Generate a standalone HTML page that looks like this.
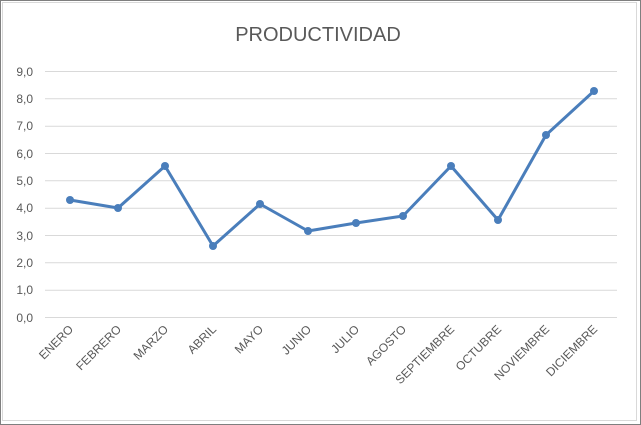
<!DOCTYPE html>
<html><head><meta charset="utf-8"><style>
html,body{margin:0;padding:0;background:#fff}
svg{display:block}
text{font-family:"Liberation Sans",sans-serif;fill:#595959}
</style></head><body>
<svg width="641" height="425" xmlns="http://www.w3.org/2000/svg">
<rect x="0.5" y="0.5" width="640" height="424" fill="#fff" stroke="#7f7f7f"/>
<rect x="2.5" y="2.5" width="634" height="418" fill="none" stroke="#d9d9d9"/>
<text x="318" y="41" font-size="20" text-anchor="middle">PRODUCTIVIDAD</text>
<g stroke="#d9d9d9" stroke-width="1">
<line x1="45" x2="617" y1="71.5" y2="71.5"/>
<line x1="45" x2="617" y1="98.8" y2="98.8"/>
<line x1="45" x2="617" y1="126.2" y2="126.2"/>
<line x1="45" x2="617" y1="153.5" y2="153.5"/>
<line x1="45" x2="617" y1="180.8" y2="180.8"/>
<line x1="45" x2="617" y1="208.2" y2="208.2"/>
<line x1="45" x2="617" y1="235.5" y2="235.5"/>
<line x1="45" x2="617" y1="262.8" y2="262.8"/>
<line x1="45" x2="617" y1="290.2" y2="290.2"/>
<line x1="45" x2="617" y1="317.5" y2="317.5"/>
</g>
<g font-size="12" text-anchor="end">
<text x="33" y="76">9,0</text><text x="33" y="103">8,0</text><text x="33" y="130">7,0</text>
<text x="33" y="158">6,0</text><text x="33" y="185">5,0</text><text x="33" y="212">4,0</text>
<text x="33" y="240">3,0</text><text x="33" y="267">2,0</text><text x="33" y="294">1,0</text>
<text x="33" y="322">0,0</text>
</g>
<polyline fill="none" stroke="#4a7ebb" stroke-width="3" stroke-linejoin="round"
points="70,200 118,208 165,166 213,246 260,204 308,231 356,223 403,216 451,166 498,220 546,135 594,91"/>
<g fill="#4a7ebb">
<circle cx="70" cy="200" r="4"/><circle cx="118" cy="208" r="4"/><circle cx="165" cy="166" r="4"/>
<circle cx="213" cy="246" r="4"/><circle cx="260" cy="204" r="4"/><circle cx="308" cy="231" r="4"/>
<circle cx="356" cy="223" r="4"/><circle cx="403" cy="216" r="4"/><circle cx="451" cy="166" r="4"/>
<circle cx="498" cy="220" r="4"/><circle cx="546" cy="135" r="4"/><circle cx="594" cy="91" r="4"/>
</g>
<g font-size="12" text-anchor="end">
<text transform="translate(74,330) rotate(-45)">ENERO</text>
<text transform="translate(122,330) rotate(-45)">FEBRERO</text>
<text transform="translate(169,330) rotate(-45)">MARZO</text>
<text transform="translate(217,330) rotate(-45)">ABRIL</text>
<text transform="translate(264,330) rotate(-45)">MAYO</text>
<text transform="translate(312,330) rotate(-45)">JUNIO</text>
<text transform="translate(360,330) rotate(-45)">JULIO</text>
<text transform="translate(407,330) rotate(-45)">AGOSTO</text>
<text transform="translate(455,330) rotate(-45)">SEPTIEMBRE</text>
<text transform="translate(502,330) rotate(-45)">OCTUBRE</text>
<text transform="translate(550,330) rotate(-45)">NOVIEMBRE</text>
<text transform="translate(598,330) rotate(-45)">DICIEMBRE</text>
</g>
</svg>
</body></html>
